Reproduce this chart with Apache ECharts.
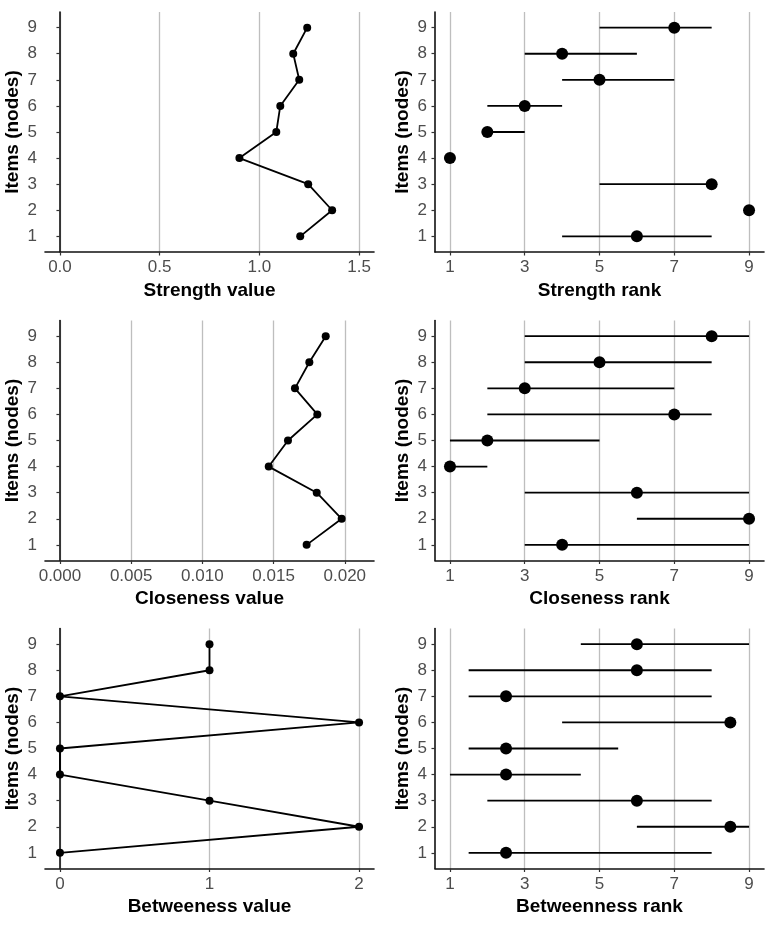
<!DOCTYPE html>
<html>
<head>
<meta charset="utf-8">
<script src="https://cdn.jsdelivr.net/npm/echarts@6/dist/echarts.min.js"></script>
<style>
  html, body { margin: 0; padding: 0; background: #fff; }
  #main { width: 768px; height: 930px; }
</style>
</head>
<body>
<div id="main"></div>
<script>
const items = [1, 2, 3, 4, 5, 6, 7, 8, 9];

const strengthValue = [1.205, 1.365, 1.245, 0.90, 1.085, 1.105, 1.20, 1.17, 1.24];
const strengthRank = [6, 9, 8, 1, 2, 3, 5, 4, 7];
const strengthLo = [4, 9, 5, 1, 2, 2, 4, 3, 5];
const strengthHi = [8, 9, 8, 1, 3, 4, 7, 6, 8];

const closenessValue = [0.01732, 0.01978, 0.01803, 0.01466, 0.01601, 0.01807, 0.0165, 0.01751, 0.01866];
const closenessRank = [4, 9, 6, 1, 2, 7, 3, 5, 8];
const closenessLo = [3, 6, 3, 1, 1, 2, 2, 3, 3];
const closenessHi = [9, 9, 9, 2, 5, 8, 7, 8, 9];

const betweenValue = [0, 2, 1, 0, 0, 2, 0, 1, 1];
const betweenRank = [2.5, 8.5, 6, 2.5, 2.5, 8.5, 2.5, 6, 6];
const betweenLo = [1.5, 6, 2, 1, 1.5, 4, 1.5, 1.5, 4.5];
const betweenHi = [8, 9, 8, 4.5, 5.5, 8.5, 8, 8, 9];

const strengthTicks = [0, 0.5, 1, 1.5];
const closenessTicks = [0, 0.005, 0.01, 0.015, 0.02];
const betweenTicks = [0, 1, 2];
const rankTicks = [1, 3, 5, 7, 9];

const FONT = '"Liberation Sans", Arial, sans-serif';

const panels = [
  { left: 45, top: 12, title: 'Strength value', min: -0.075, max: 1.575, ticks: strengthTicks, fmt: v => v.toFixed(1) },
  { left: 435, top: 12, title: 'Strength rank', min: 0.6, max: 9.4, ticks: rankTicks, fmt: v => String(v) },
  { left: 45, top: 320.5, title: 'Closeness value', min: -0.00105, max: 0.02205, ticks: closenessTicks, fmt: v => v.toFixed(3) },
  { left: 435, top: 320.5, title: 'Closeness rank', min: 0.6, max: 9.4, ticks: rankTicks, fmt: v => String(v) },
  { left: 45, top: 628.5, title: 'Betweeness value', min: -0.1, max: 2.1, ticks: betweenTicks, fmt: v => String(v) },
  { left: 435, top: 628.5, title: 'Betweenness rank', min: 0.6, max: 9.4, ticks: rankTicks, fmt: v => String(v) }
];

const axisLine = { show: true, lineStyle: { color: '#111', width: 1.6 } };
const axisTick = (vals) => ({ show: true, length: 3.5, customValues: vals, lineStyle: { color: '#333', width: 1.2 } });

const grid = panels.map(p => ({ left: p.left, top: p.top, width: 329, height: 240 }));

const xAxis = panels.map((p, i) => ({
  type: 'value', gridIndex: i, min: p.min, max: p.max,
  name: p.title, nameLocation: 'middle', nameGap: 29,
  nameTextStyle: { color: '#000', fontSize: 19, fontWeight: 'bold', fontFamily: FONT },
  axisLine: axisLine,
  axisTick: axisTick(p.ticks),
  axisLabel: { customValues: p.ticks, formatter: p.fmt, color: '#4d4d4d', fontSize: 17, fontFamily: FONT, margin: 7 },
  splitLine: { show: true, lineStyle: { color: '#bebebe', width: 1.3 } }
}));

const yAxis = panels.map((p, i) => ({
  type: 'value', gridIndex: i, min: 0.4, max: 9.6,
  name: 'Items (nodes)', nameLocation: 'middle', nameGap: 23,
  nameTextStyle: { color: '#000', fontSize: 19, fontWeight: 'bold', fontFamily: FONT },
  axisLine: axisLine,
  axisTick: axisTick(items),
  axisLabel: { customValues: items, color: '#4d4d4d', fontSize: 17, fontFamily: FONT, margin: 8 },
  splitLine: { show: false }
}));

function valueSeries(idx, vals) {
  return {
    type: 'line', xAxisIndex: idx, yAxisIndex: idx,
    data: items.map((y, k) => [vals[k], y]),
    symbol: 'circle', symbolSize: 8, showSymbol: true,
    itemStyle: { color: '#000' },
    lineStyle: { color: '#000', width: 1.8 },
    animation: false
  };
}

function rangeSeries(idx, lo, hi) {
  return {
    type: 'custom', xAxisIndex: idx, yAxisIndex: idx,
    data: items.map((y, k) => [lo[k], hi[k], y]),
    encode: { x: [0, 1], y: 2 },
    renderItem: function (params, api) {
      const a = api.coord([api.value(0), api.value(2)]);
      const b = api.coord([api.value(1), api.value(2)]);
      return { type: 'line', shape: { x1: a[0], y1: a[1], x2: b[0], y2: b[1] }, style: { stroke: '#000', lineWidth: 1.8 } };
    },
    animation: false
  };
}

function rankSeries(idx, ranks) {
  return {
    type: 'scatter', xAxisIndex: idx, yAxisIndex: idx,
    data: items.map((y, k) => [ranks[k], y]),
    symbol: 'circle', symbolSize: 12,
    itemStyle: { color: '#000', opacity: 1 },
    z: 3, animation: false
  };
}

const chart = echarts.init(document.getElementById('main'));
chart.setOption({
  backgroundColor: '#fff',
  animation: false,
  grid: grid,
  xAxis: xAxis,
  yAxis: yAxis,
  series: [
    valueSeries(0, strengthValue),
    rangeSeries(1, strengthLo, strengthHi),
    rankSeries(1, strengthRank),
    valueSeries(2, closenessValue),
    rangeSeries(3, closenessLo, closenessHi),
    rankSeries(3, closenessRank),
    valueSeries(4, betweenValue),
    rangeSeries(5, betweenLo, betweenHi),
    rankSeries(5, betweenRank)
  ]
});
</script>
</body>
</html>
